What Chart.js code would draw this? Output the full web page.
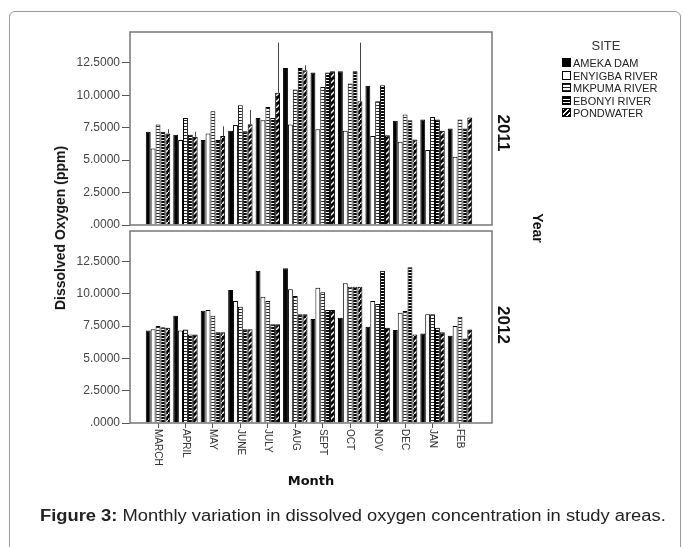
<!DOCTYPE html>
<html><head><meta charset="utf-8">
<script src="https://cdn.jsdelivr.net/npm/chart.js@4"></script>
<style>
html,body{margin:0;padding:0;background:#fff}
#wrap{position:relative;width:683px;height:547px;overflow:hidden;font-family:"Liberation Sans",Arial,sans-serif;color:#111}
canvas{position:absolute;left:0;top:0}
#frame{position:absolute;left:9px;top:11px;width:670px;height:600px;border:1px solid #9a9a9a;border-radius:6px}
.t{position:absolute;white-space:nowrap;transform:translate(-50%,-50%)}
.b{font-weight:bold}
.r90{transform:translate(-50%,-50%) rotate(90deg)}
.rm90{transform:translate(-50%,-50%) rotate(-90deg)}
.lg{position:absolute;left:562px;font-size:11px;color:#222;white-space:nowrap;line-height:12px;height:12px}
.sw{display:inline-block;width:9px;height:9px;border:1px solid #000;vertical-align:top;margin-top:1px;margin-right:2px;box-sizing:border-box}
#cap{position:absolute;left:40px;top:508px;font-size:16px;line-height:16px;color:#222;white-space:nowrap;transform:scaleX(1.146);transform-origin:0 0}
</style></head><body>
<div id="wrap">
<div id="frame"></div>
<canvas id="c2011" width="683" height="547"></canvas>
<canvas id="c2012" width="683" height="547"></canvas>
<div class="t rm90 b" style="left:60px;top:228px;font-size:14px">Dissolved Oxygen (ppm)</div>
<div class="t r90 b" style="left:503px;top:133px;font-size:17px">2011</div>
<div class="t r90 b" style="left:503px;top:325px;font-size:17px">2012</div>
<div class="t r90 b" style="left:538px;top:228px;font-size:14px">Year</div>
<div class="t b" style="left:311px;top:480px;font-size:13px;font-family:'DejaVu Sans'">Month</div>
<div class="t" style="left:606px;top:45px;font-size:13px;color:#333">SITE</div>
<div id="legend"></div>
<div id="cap"><b>Figure 3:</b> Monthly variation in dissolved oxygen concentration in study areas.</div>
</div>
<script>
const months = ['MARCH','APRIL','MAY','JUNE','JULY','AUG','SEPT','OCT','NOV','DEC','JAN','FEB'];
const sites = ['AMEKA DAM','ENYIGBA RIVER','MKPUMA RIVER','EBONYI RIVER','PONDWATER'];
const yTicks = [0, 2.5, 5, 7.5, 10, 12.5];
const yMax = 14.87;

const ameka2011   = [7.18, 6.95, 6.54, 7.26, 8.25, 12.10, 11.74, 11.85, 10.72, 8.03, 8.13, 7.44];
const enyigba2011 = [5.90, 6.54, 7.05, 7.70, 8.08, 7.75, 7.38, 7.26, 6.85, 6.41, 5.77, 5.25];
const mkpuma2011  = [7.75, 8.25, 8.77, 9.23, 9.10, 10.44, 10.64, 10.90, 9.54, 8.51, 8.33, 8.13];
const ebonyi2011  = [7.18, 6.95, 6.54, 7.23, 8.25, 12.10, 11.74, 11.85, 10.77, 8.08, 8.13, 7.44];
const pond2011    = [7.05, 6.80, 6.85, 7.77, 10.18, 11.92, 11.85, 9.54, 6.92, 6.59, 7.26, 8.28];
const pondUpper2011 = [7.38, 7.18, 7.60, 8.85, 14.05, 12.30, null, 14.05, null, null, null, null];

const ameka2012   = [7.17, 8.31, 8.70, 10.30, 11.80, 11.99, 8.05, 8.15, 7.45, 7.20, 6.94, 6.75];
const enyigba2012 = [7.27, 7.17, 8.75, 9.45, 9.78, 10.36, 10.48, 10.82, 9.45, 8.54, 8.42, 7.51];
const mkpuma2012  = [7.51, 7.25, 8.31, 9.01, 9.45, 9.84, 10.12, 10.56, 9.22, 8.67, 8.42, 8.23];
const ebonyi2012  = [7.41, 6.86, 7.02, 7.27, 7.64, 8.42, 8.75, 10.56, 11.80, 12.07, 7.38, 6.55];
const pond2012    = [7.38, 6.86, 7.02, 7.27, 7.64, 8.42, 8.75, 10.56, 7.38, 6.86, 7.02, 7.25];

function pat(w, h, fn) {
  const c = document.createElement('canvas'); c.width = w; c.height = h;
  const x = c.getContext('2d'); fn(x, w, h); return x.createPattern(c, 'repeat');
}
const mkPat = pat(2, 3, (x, w, h) => { x.fillStyle = '#fff'; x.fillRect(0,0,w,h); x.fillStyle = '#222'; x.fillRect(0,0,w,1); });
const ebPat = pat(2, 3, (x, w, h) => { x.fillStyle = '#000'; x.fillRect(0,0,w,h); x.fillStyle = '#fff'; x.fillRect(0,2,w,1); });
const pdPat = pat(6, 6, (x, w, h) => {
  x.fillStyle = '#000'; x.fillRect(0,0,w,h);
  x.strokeStyle = '#fff'; x.lineWidth = 1.4;
  x.beginPath(); x.moveTo(-1, 7); x.lineTo(7, -1); x.stroke();
});
const fills = ['#000', '#fff', mkPat, ebPat, pdPat];
const cssFills = [
  '#000', '#fff',
  'repeating-linear-gradient(to bottom,#222 0 1px,#fff 1px 3px)',
  'repeating-linear-gradient(to bottom,#000 0 2px,#fff 2px 3px)',
  'repeating-linear-gradient(-45deg,#000 0 2px,#fff 2px 3.5px)'
];

// legend
const legendRows = [63, 76, 88, 101, 113];
const lg = document.getElementById('legend');
sites.forEach((s, k) => {
  const d = document.createElement('div');
  d.className = 'lg'; d.style.top = (legendRows[k] - 6) + 'px';
  const sw = document.createElement('span'); sw.className = 'sw'; sw.style.background = cssFills[k];
  d.appendChild(sw); d.appendChild(document.createTextNode(s));
  lg.appendChild(d);
});

function makeDatasets(series) {
  return series.map((vals, k) => ({
    label: sites[k],
    data: vals.map((v, i) => ({ x: i, y: v })),
    backgroundColor: fills[k],
    borderColor: '#000',
    borderWidth: 1,
    categoryPercentage: 0.89,
    barPercentage: 1
  }));
}

const boxPlugin = {
  id: 'box',
  afterDraw(chart) {
    const a = chart.chartArea, ctx = chart.ctx;
    ctx.save(); ctx.strokeStyle = '#777'; ctx.lineWidth = 1.5;
    ctx.strokeRect(a.left, a.top, a.right - a.left, a.bottom - a.top);
    ctx.restore();
  }
};

function whiskerPlugin(dsIndex, upper) {
  return {
    id: 'whisk',
    afterDatasetsDraw(chart) {
      const meta = chart.getDatasetMeta(dsIndex), ys = chart.scales.y, ctx = chart.ctx;
      ctx.save(); ctx.strokeStyle = '#444'; ctx.lineWidth = 1;
      upper.forEach((u, i) => {
        if (u == null) return;
        const el = meta.data[i];
        ctx.beginPath(); ctx.moveTo(Math.round(el.x) + 0.5, el.y); ctx.lineTo(Math.round(el.x) + 0.5, ys.getPixelForValue(u)); ctx.stroke();
      });
      ctx.restore();
    }
  };
}

const monthLabelPlugin = {
  id: 'mlab',
  afterDraw(chart) {
    const xs = chart.scales.x, ctx = chart.ctx, y0 = chart.chartArea.bottom + 6;
    ctx.save(); ctx.fillStyle = '#333'; ctx.font = '10px "Liberation Sans", Arial';
    ctx.textAlign = 'left'; ctx.textBaseline = 'middle';
    months.forEach((m, i) => {
      ctx.save(); ctx.translate(xs.getPixelForValue(i), y0); ctx.rotate(Math.PI / 2);
      ctx.fillText(m, 0, 0); ctx.restore();
    });
    ctx.restore();
  }
};

function makeChart(id, series, top, bottom, showX, extraPlugins) {
  const xHeight = showX ? 60 : 0;
  return new Chart(document.getElementById(id), {
    type: 'bar',
    data: { datasets: makeDatasets(series) },
    plugins: [boxPlugin].concat(extraPlugins),
    options: {
      responsive: false, animation: false,
      layout: { padding: { left: 70, right: 191, top: top, bottom: 547 - bottom - xHeight } },
      plugins: { legend: { display: false }, tooltip: { enabled: false } },
      scales: {
        x: {
          type: 'linear', min: -1.02, max: 12.166, offset: false, display: showX,
          afterBuildTicks: s => { s.ticks = months.map((m, i) => ({ value: i })); },
          afterFit: s => { s.height = xHeight; },
          ticks: { display: false },
          grid: { offset: false, drawOnChartArea: false, drawTicks: true, tickLength: 5, color: '#555' },
          border: { display: false }
        },
        y: {
          min: 0, max: yMax,
          afterBuildTicks: s => { s.ticks = yTicks.map(v => ({ value: v })); },
          afterFit: s => { s.width = 60; },
          ticks: {
            callback: v => v === 0 ? '.0000' : Number(v).toFixed(4),
            font: { family: '"Liberation Sans", Arial', size: 12 }, color: '#444', padding: 2
          },
          grid: { drawOnChartArea: false, tickLength: 8, color: '#555' },
          border: { display: false }
        }
      }
    }
  });
}

makeChart('c2011', [ameka2011, enyigba2011, mkpuma2011, ebonyi2011, pond2011], 32, 225, false, [whiskerPlugin(4, pondUpper2011)]);
makeChart('c2012', [ameka2012, enyigba2012, mkpuma2012, ebonyi2012, pond2012], 231, 423, true, [monthLabelPlugin]);
</script>
</body></html>
